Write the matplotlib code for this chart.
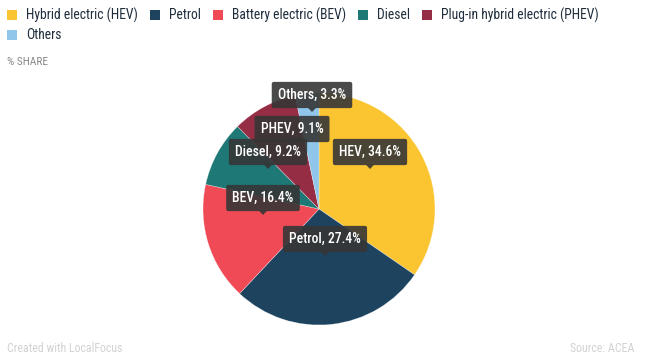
import matplotlib
matplotlib.use("Agg")
import matplotlib.pyplot as plt
from matplotlib.patches import Rectangle, Polygon
from matplotlib import font_manager

# ---- data ----
categories = ["Hybrid electric (HEV)", "Petrol", "Battery electric (BEV)", "Diesel",
              "Plug-in hybrid electric (PHEV)", "Others"]
short_labels = ["HEV", "Petrol", "BEV", "Diesel", "PHEV", "Others"]
shares = [34.6, 27.4, 16.4, 9.2, 9.1, 3.3]

# ---- style ----
colors = ["#fbc531", "#1d435f", "#ef4a56", "#1e7875", "#952d45", "#8fc6ea"]
# label pointer tip offsets from pie centre (pixels, x right / y up)
label_tips_px = [(51, 40), (6, -47), (-56, -6), (-51, 40), (-27, 63), (-7, 97)]

W, H, DPI = 653, 363, 100
avail = {f.name for f in font_manager.fontManager.ttflist}
cond = next((n for n in ["Roboto Condensed", "Archivo Narrow", "Sofia Sans Condensed", "Roboto"]
             if n in avail), "DejaVu Sans")
plt.rcParams['font.family'] = [cond, 'DejaVu Sans']

fig = plt.figure(figsize=(W / DPI, H / DPI), dpi=DPI)
fig.patch.set_facecolor("white")

cx, cy, R = 319, 209, 116
ax = fig.add_axes([(cx - R) / W, (H - cy - R) / H, 2 * R / W, 2 * R / H])
ax.axis("off")
ax.pie(shares, colors=colors, startangle=90, counterclock=False, radius=1,
       wedgeprops=dict(linewidth=0.4, edgecolor=(1, 1, 1, 0.5)))
ax.set_aspect("equal")
ax.set_xlim(-1, 1)
ax.set_ylim(-1, 1)

# labels
px2pt = 72 / DPI
for lab, val, (dx, dy) in zip(short_labels, shares, label_tips_px):
    tx, ty = dx / R, dy / R
    ax.annotate(f"{lab}, {val}%", xy=(tx, ty), xytext=(0, 10 * px2pt),
                textcoords="offset points", ha="center", va="bottom",
                fontsize=9.8, color="white", fontweight=500,
                bbox=dict(boxstyle="round,pad=0.45,rounding_size=0.15",
                          fc="#363636", ec="none", alpha=0.9),
                annotation_clip=False, zorder=5)
    s = 4 / R
    tri = Polygon([(tx - s, ty + s * 1.05), (tx + s, ty + s * 1.05), (tx, ty)],
                  closed=True, fc="#363636", ec="none", alpha=0.9, zorder=5)
    ax.add_patch(tri)

# legend (manual)
fig.canvas.draw()
renderer = fig.canvas.get_renderer()
x = 7
rows_y = [15, 35]
per_row = 5
for i, (cat, col) in enumerate(zip(categories, colors)):
    if i == per_row:
        x = 7
    y = rows_y[0] if i < per_row else rows_y[1]
    sq = 10
    fig.patches.append(Rectangle((x / W, (H - y - sq / 2) / H), sq / W, sq / H,
                                 transform=fig.transFigure, fc=col, ec="none"))
    t = fig.text((x + 19) / W, (H - y) / H, cat, ha="left", va="center",
                 fontsize=9.8, color="#1f2d3d")
    bb = t.get_window_extent(renderer)
    x = x + 19 + bb.width + 12

fig.text(7 / W, (H - 62) / H, "% SHARE", ha="left", va="center", fontsize=8.2, color="#888888")
fig.text(7 / W, (H - 349) / H, "Created with LocalFocus", ha="left", va="center",
         fontsize=8.6, color="#d2d2d2")
fig.text(634 / W, (H - 349) / H, "Source: ACEA", ha="right", va="center",
         fontsize=8.6, color="#d2d2d2")

fig.savefig("out.png", dpi=DPI, facecolor="white")
